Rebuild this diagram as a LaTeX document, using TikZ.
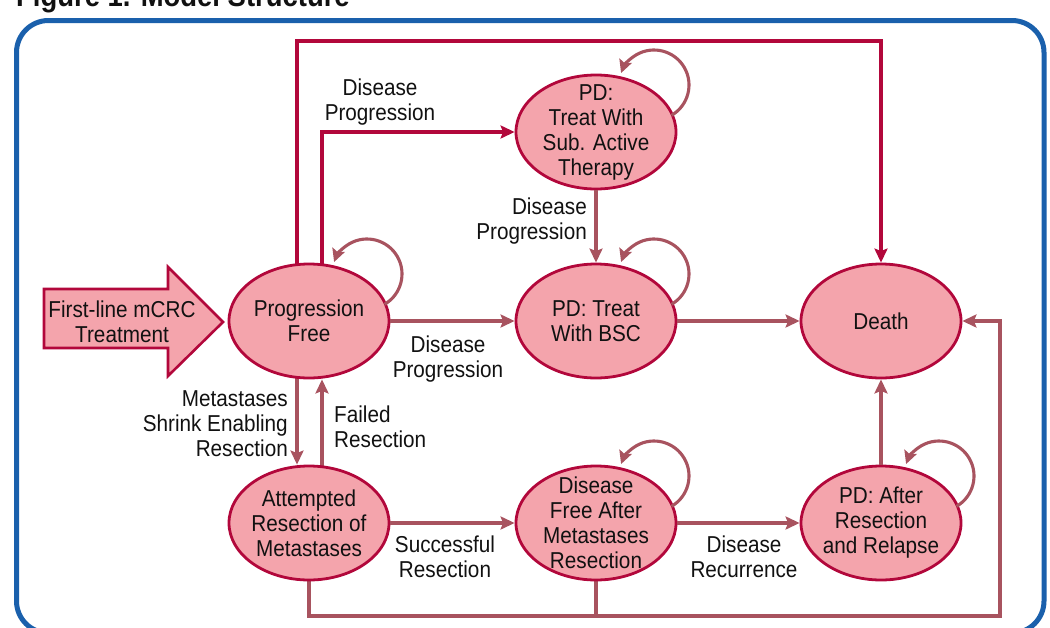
\documentclass[tikz,border=0pt]{standalone}
\usepackage{fontspec}
\setmainfont{Liberation Sans}[FakeStretch=0.9]
\usetikzlibrary{shapes.geometric,arrows.meta,backgrounds}
\definecolor{pinkfill}{HTML}{F4A4AC}
\definecolor{crim}{HTML}{B2073B}
\definecolor{rose}{HTML}{A8535F}
\definecolor{frameblue}{HTML}{1A60AC}
\definecolor{txt}{HTML}{111111}
\begin{document}
\begin{tikzpicture}[x=1pt,y=-1pt,
  state/.style={ellipse,draw=crim,fill=pinkfill,line width=2.8pt,minimum width=160pt,minimum height=114pt,inner sep=0pt},
  txtf/.style={font=\fontsize{23}{25}\selectfont,text=txt,align=center,inner sep=0pt},
  conn/.style={draw=rose,line width=3.4pt,-{Stealth[length=14pt,width=13pt,inset=2.5pt]}},
  plainline/.style={draw=rose,line width=3.4pt},
  crimconn/.style={draw=crim,line width=3.1pt,-{Stealth[length=14pt,width=13pt,inset=2.5pt]}},
  selfloop/.style={draw=rose,line width=3.1pt,-{Stealth[length=13pt,width=13pt,inset=2.5pt]}}]
\useasboundingbox (0,0) rectangle (1050,627);
\clip (0,0) rectangle (1050,627);
% frame and title
\draw[frameblue,line width=5pt,rounded corners=32pt] (16.5,20.5) rectangle (1044,633);
\node[anchor=base west,inner sep=0pt,font=\fontsize{30.5}{31}\selectfont\bfseries,text=txt] (title) at (16,6) {Figure 1. Model Structure};
% start arrow
\path[draw=crim,fill=pinkfill,line width=2.6pt] (44,289) -- (168,289) -- (168,267) -- (223,322) -- (168,376) -- (168,348) -- (44,348) -- cycle;
\node[txtf] (start) at (122,322) {First-line mCRC\\Treatment};
% states
\node[state] (pf) at (309,321) {};
\node[txtf] (pf-t) at (pf) {Progression\\Free};
\node[state] (pdsub) at (596,132) {};
\node[txtf] (pdsub-t) at (pdsub) {PD:\\Treat With\\Sub. Active\\Therapy};
\node[state] (bsc) at (596,321) {};
\node[txtf] (bsc-t) at (bsc) {PD: Treat\\With BSC};
\node[state] (death) at (881,321) {};
\node[txtf] (death-t) at (death) {Death};
\node[state] (att) at (309,523) {};
\node[txtf] (att-t) at (att) {Attempted\\Resection of\\Metastases};
\node[state] (dfree) at (596,523) {};
\node[txtf] (dfree-t) at (dfree) {Disease\\Free After\\Metastases\\Resection};
\node[state] (pdafter) at (881,523) {};
\node[txtf] (pdafter-t) at (pdafter) {PD: After\\Resection\\and Relapse};
% connectors behind the states
\begin{scope}[on background layer]
  \coordinate (t1) at (297,41);
  \coordinate (t2) at (881,41);
  \coordinate (t3) at (322,132);
  \draw[crimconn] (t1 |- pf.center) -- (t1) -- (t2) -- (death.north);
  \draw[crimconn] (t3 |- pf.center) -- (t3) -- (pdsub.west);
  \coordinate (d1) at (297,0);
  \coordinate (u1) at (322,0);
  \draw[conn] (d1 |- pf.center) -- (d1 |- att.north);
  \draw[conn] (u1 |- att.center) -- (u1 |- pf.south);
  \coordinate (br) at (1000,616);
  \draw[conn] (att.center) -- (att.center |- br) -- (br) -- (br |- death.east) -- (death.east);
  \draw[plainline] (dfree.center) -- (dfree.center |- br);
\end{scope}
\draw[conn] (pdsub.south) -- (bsc.north);
\draw[conn] (pf.east) -- (bsc.west);
\draw[conn] (bsc.east) -- (death.west);
\draw[conn] (att.east) -- (dfree.west);
\draw[conn] (dfree.east) -- (pdafter.west);
\draw[conn] (pdafter.north) -- (death.south);
% self loops
\foreach \s in {pf,pdsub,bsc,dfree,pdafter}{
  \draw[selfloop] (\s.center) ++(58,-47) ++(60:35) arc[start angle=60,end angle=-160,radius=35];
}
% labels
\node[txtf] (l1) at (380,102) {Disease\\Progression};
\node[txtf,anchor=east,align=right] (l2) at (587,221) {Disease\\Progression};
\node[txtf] (l3) at (448,359) {Disease\\Progression};
\node[txtf,anchor=east,align=right] (l4) at (288,424) {Metastases\\Shrink Enabling\\Resection};
\node[txtf,anchor=west,align=left] (l5) at (334,427) {Failed\\Resection};
\node[txtf] (l6) at (445,557) {Successful\\Resection};
\node[txtf] (l7) at (744,557) {Disease\\Recurrence};
\end{tikzpicture}
\end{document}
